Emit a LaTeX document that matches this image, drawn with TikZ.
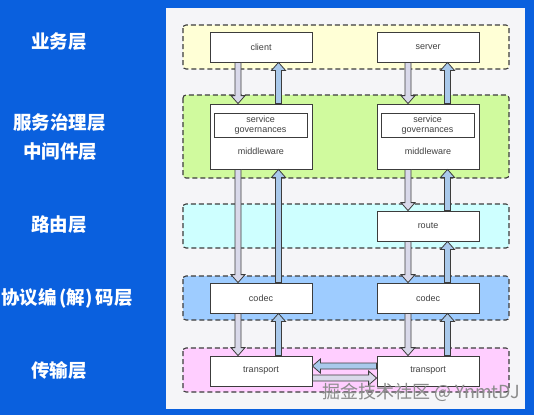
\documentclass[tikz,border=0pt]{standalone}
\usepackage{fontspec}
\setmainfont{Liberation Sans}
\newfontfamily\cjk{Noto Sans CJK SC}
\usetikzlibrary{calc}
\definecolor{bgblue}{RGB}{10,96,222}
\definecolor{panelc}{RGB}{245,245,248}
\definecolor{yelc}{RGB}{255,255,214}
\definecolor{grnc}{RGB}{208,250,158}
\definecolor{cyac}{RGB}{206,255,255}
\definecolor{bluc}{RGB}{158,204,255}
\definecolor{pnkc}{RGB}{255,206,255}
\definecolor{downc}{RGB}{217,217,234}
\definecolor{upc}{RGB}{169,201,235}
\definecolor{edgec}{RGB}{60,60,60}
\newcommand{\fatarrow}[3]{%
  \draw[fatline, fill=#3] let \p1=(#1), \p2=(#2),
    \n1={atan2(\y2-\y1,\x2-\x1)}, \n2={veclen(\x2-\x1,\y2-\y1)} in
    [shift={(\p1)}, rotate=\n1]
    (0pt,-3pt) -- (\n2-8pt,-3pt) -- (\n2-8pt,-7pt) -- ({\n2*1pt},0pt)
    -- (\n2-8pt,7pt) -- (\n2-8pt,3pt) -- (0pt,3pt) -- cycle;}
\begin{document}
\begin{tikzpicture}[x=1pt,y=-1pt,
  band/.style={draw=edgec, line width=1.1pt, dash pattern=on 5pt off 3pt, rounded corners=3pt},
  box/.style={draw=edgec, line width=0.8pt, fill=white, minimum width=102pt, minimum height=30pt, inner sep=0pt, font=\fontsize{9}{11}\selectfont, text=black!75},
  inbox/.style={draw=edgec, line width=0.8pt, fill=white, minimum width=93pt, minimum height=24pt, inner sep=0pt, align=center, font=\fontsize{9}{10.5}\selectfont, text=black!75},
  lbl/.style={text=white, font=\cjk\bfseries\fontsize{18.5}{20}\selectfont, inner sep=0pt},
  fatline/.style={draw=edgec, line width=0.8pt, line join=miter}]
\useasboundingbox (0,0) rectangle (534,415);
\fill[bgblue] (0,0) rectangle (534,415);
\fill[panelc] (166,8) rectangle (525,409);
% bands
\draw[band, fill=yelc] (183,25) rectangle (509,69);
\draw[band, fill=grnc] (183,95) rectangle (509,178);
\draw[band, fill=cyac] (183,204) rectangle (509,248);
\draw[band, fill=bluc] (183,276) rectangle (509,320);
\draw[band, fill=pnkc] (183,348) rectangle (509,392);
% labels
\node[lbl] (l1) at (59,42) {业务层};
\node[lbl] (l2) at (59.5,123) {服务治理层};
\node[lbl] (l3) at (60,152) {中间件层};
\node[lbl] (l4) at (59,225) {路由层};
\node[lbl] (l5) at (67,298) {协议编\,(解)\,码层};
\node[lbl] (l6) at (59,370) {传输层};
% boxes
\node[box] (cl) at (261,47) {client};
\node[box] (sv) at (428,47) {server};
\node[box, minimum height=65pt] (mwL) at (261,136.5) {};
\node[box, minimum height=65pt] (mwR) at (428,136.5) {};
\node[box] (rt) at (428,226) {route};
\node[box] (cdL) at (261,298) {codec};
\node[box] (cdR) at (428,298) {codec};
\node[box] (trL) at (261,371) {transport};
\node[box] (trR) at (428,371) {transport};
% arrows left
\fatarrow{[xshift=-23pt]cl.south}{[xshift=-23pt]mwL.north}{downc}
\fatarrow{[xshift=17.5pt]mwL.north}{[xshift=17.5pt]cl.south}{upc}
\fatarrow{[xshift=-23pt]mwL.south}{[xshift=-23pt]cdL.north}{downc}
\fatarrow{[xshift=17.5pt]cdL.north}{[xshift=17.5pt]mwL.south}{upc}
\fatarrow{[xshift=-23pt]cdL.south}{[xshift=-23pt]trL.north}{downc}
\fatarrow{[xshift=17.5pt]trL.north}{[xshift=17.5pt]cdL.south}{upc}
% arrows right
\fatarrow{[xshift=-20pt]sv.south}{[xshift=-20pt]mwR.north}{downc}
\fatarrow{[xshift=19.5pt]mwR.north}{[xshift=19.5pt]sv.south}{upc}
\fatarrow{[xshift=-20pt]mwR.south}{[xshift=-20pt]rt.north}{downc}
\fatarrow{[xshift=19.5pt]rt.north}{[xshift=19.5pt]mwR.south}{upc}
\fatarrow{[xshift=-20pt]rt.south}{[xshift=-20pt]cdR.north}{downc}
\fatarrow{[xshift=19.5pt]cdR.north}{[xshift=19.5pt]rt.south}{upc}
\fatarrow{[xshift=-20pt]cdR.south}{[xshift=-20pt]trR.north}{downc}
\fatarrow{[xshift=19.5pt]trR.north}{[xshift=19.5pt]cdR.south}{upc}
% horizontal
\fatarrow{[yshift=5pt]trR.west}{[yshift=5pt]trL.east}{upc}
\fatarrow{[yshift=-7pt]trL.east}{[yshift=-7pt]trR.west}{downc}
% inner boxes
\node[inbox] (sgL) at (260.5,125) {service\\governances};
\node[inbox] (sgR) at (427.5,125) {service\\governances};
\node[font=\fontsize{9}{11}\selectfont, text=black!75, inner sep=0pt] (mtL) at (261,151) {middleware};
\node[font=\fontsize{9}{11}\selectfont, text=black!75, inner sep=0pt] (mtR) at (428,151) {middleware};
% watermark
\node[font=\cjk\fontsize{18}{20}\selectfont, text=black!45, inner sep=0pt, anchor=east] (wm) at (520,392) {掘金技术社区 @ YnmtDJ};
\end{tikzpicture}
\end{document}
